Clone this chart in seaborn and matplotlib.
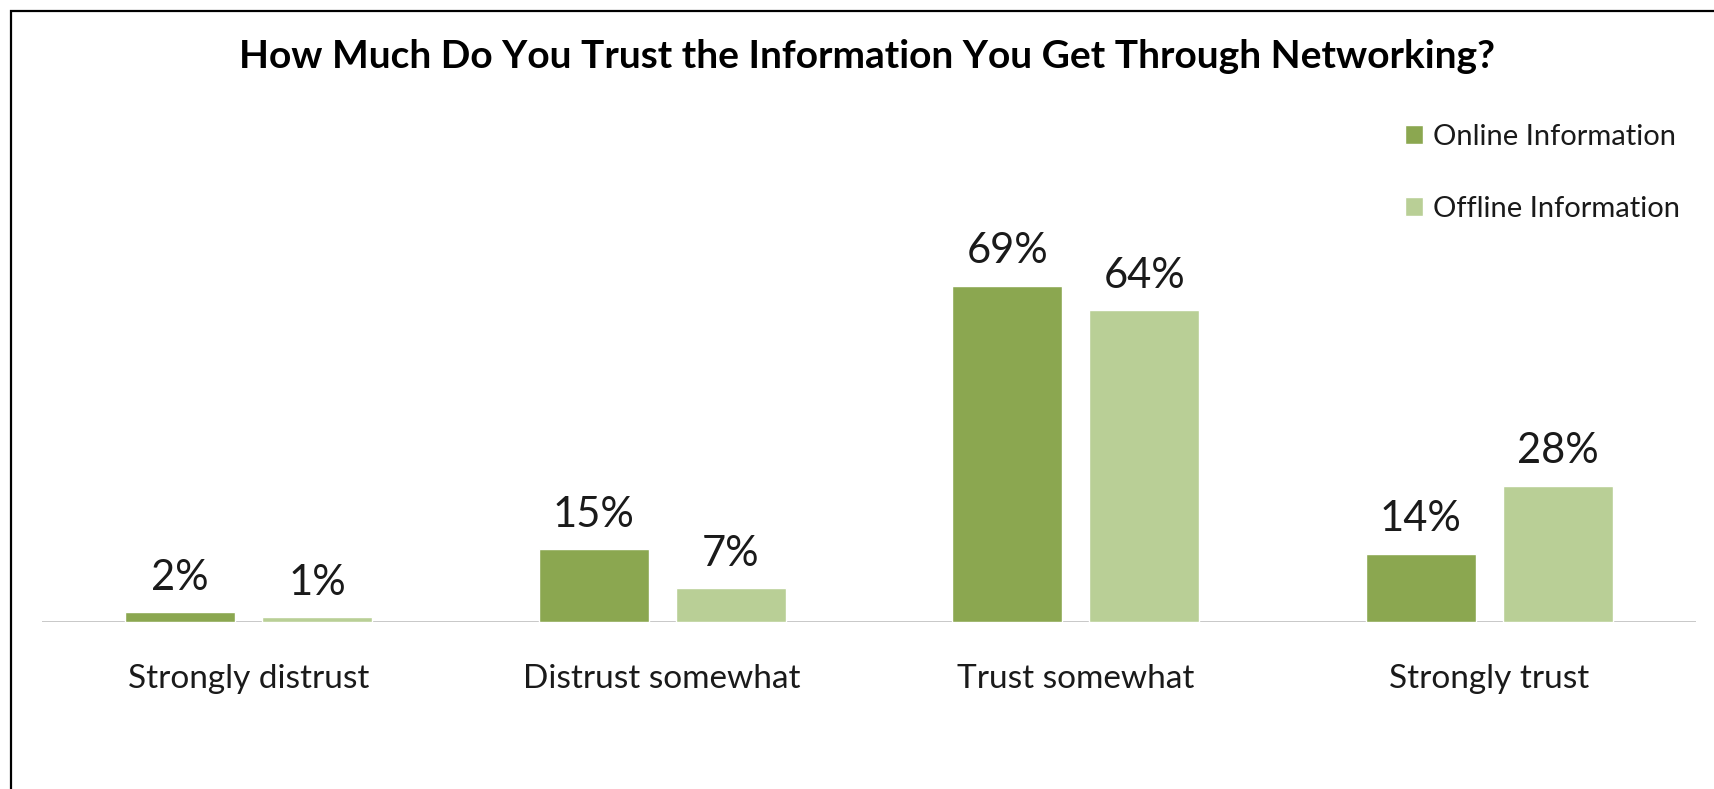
import matplotlib
matplotlib.use("Agg")
import matplotlib.pyplot as plt
import seaborn as sns
import pandas as pd
from matplotlib.patches import Rectangle

categories = ["Strongly distrust", "Distrust somewhat", "Trust somewhat", "Strongly trust"]
online_values = [2, 15, 69, 14]
offline_values = [1, 7, 64, 28]
series_names = ["Online Information", "Offline Information"]
title_text = "How Much Do You Trust the Information You Get Through Networking?"

colors = ["#8BA750", "#B9CF96"]

df = pd.DataFrame({
    "category": categories * 2,
    "value": online_values + offline_values,
    "series": [series_names[0]] * len(categories) + [series_names[1]] * len(categories),
})

sns.set_theme(style="white")
plt.rcParams["font.family"] = ["Lato", "DejaVu Sans"]

W, H = 1715, 789
fig = plt.figure(figsize=(W / 100, H / 100), dpi=100)
fig.patch.set_facecolor("white")

# axes placed in pixel terms: baseline at y=622, spanning x 42..1696
ax_left, ax_right = 42, 1696
ax_bottom_px = 622
ax_top_px = 232
ax = fig.add_axes([ax_left / W, 1 - ax_bottom_px / H,
                   (ax_right - ax_left) / W, (ax_bottom_px - ax_top_px) / H])

sns.barplot(data=df, x="category", y="value", hue="series", order=categories,
            hue_order=series_names, palette=colors, width=0.663, gap=0.2,
            saturation=1, ax=ax, legend=True)

ax.set_xlim(-0.5, 3.5)
ax.set_ylim(0, 80)
for s in ax.spines.values():
    s.set_visible(False)
ax.axhline(0, color="#BFBFBF", lw=1.2, zorder=0.5)
ax.set_yticks([])
ax.set_xlabel("")
ax.set_ylabel("")
ax.tick_params(axis="x", length=0, pad=30, labelsize=24, labelcolor="#1a1a1a")

for cont in ax.containers:
    ax.bar_label(cont, fmt="%d%%", padding=11, fontsize=30, color="#1a1a1a")

handles, labels = ax.get_legend_handles_labels()
ax.get_legend().remove()
fig.legend(handles, labels, loc="upper left",
           bbox_to_anchor=(1405 / W, 1 - 124 / H), frameon=False,
           fontsize=21, handlelength=0.62, handleheight=0.62,
           handletextpad=0.33, labelspacing=1.57, borderpad=0, borderaxespad=0,
           labelcolor="#1a1a1a")

fig.text(867 / W, 1 - 57 / H, title_text, ha="center", va="center",
         fontsize=28, fontweight="bold", color="black")

# chart frame, running off the right and bottom edges
fig.add_artist(Rectangle((11 / W, -0.1), 1.2, 1 - 11 / H + 0.1,
                         transform=fig.transFigure, fill=False,
                         edgecolor="black", lw=1.6))

fig.savefig("out.png", dpi=100, facecolor="white")
